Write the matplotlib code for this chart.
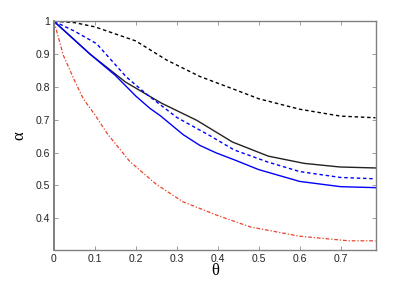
import numpy as np
import matplotlib
matplotlib.use("Agg")
import matplotlib.pyplot as plt

plt.rcParams['font.family'] = ['Liberation Sans', 'DejaVu Sans']

## values
theta_kd = [0, 0.05, 0.1, 0.2, 0.275, 0.356, 0.437, 0.5, 0.6, 0.7, 0.785]
alpha_kd = [1, 0.996, 0.983, 0.94, 0.882, 0.832, 0.794, 0.764, 0.732, 0.711, 0.706]

theta_k = [0, 0.0873, 0.1745, 0.2618, 0.349, 0.436, 0.5236, 0.611, 0.698, 0.785]
alpha_k = [1, 0.901, 0.815, 0.751, 0.698, 0.632, 0.589, 0.567, 0.556, 0.553]

theta_bd = [0, 0.05, 0.104, 0.177, 0.226, 0.3, 0.38, 0.44, 0.52, 0.6, 0.7, 0.785]
alpha_bd = [1, 0.97, 0.932, 0.83, 0.778, 0.707, 0.652, 0.608, 0.572, 0.542, 0.524, 0.52]

theta_b = [0, 0.088, 0.15, 0.2, 0.234, 0.26, 0.315, 0.356, 0.396, 0.44, 0.5, 0.6, 0.7, 0.785]
alpha_b = [1, 0.90, 0.835, 0.772, 0.735, 0.712, 0.655, 0.622, 0.599, 0.578, 0.548, 0.512, 0.496, 0.493]

theta_r = [0, 0.023, 0.05, 0.072, 0.1, 0.13, 0.185, 0.25, 0.315, 0.4, 0.48, 0.6, 0.72, 0.785]
alpha_r = [1, 0.896, 0.82, 0.763, 0.715, 0.658, 0.573, 0.503, 0.45, 0.408, 0.373, 0.345, 0.331, 0.331]

fig = plt.figure(figsize=(4.15, 2.82), dpi=100)
ax = fig.add_axes([0.130, 0.1135, 0.775, 0.811])

ax.plot(theta_kd, alpha_kd, color='black', linestyle=(0, (2.5, 2)), linewidth=1)
ax.plot(theta_k, alpha_k, color='#222222', linestyle='-', linewidth=1)
ax.plot(theta_bd, alpha_bd, color='blue', linestyle=(0, (2.5, 2)), linewidth=1)
ax.plot(theta_b, alpha_b, color='blue', linestyle='-', linewidth=1)
ax.plot(theta_r, alpha_r, color='#e8452c', linestyle=(0, (3, 1.5, 1, 1.5)), linewidth=0.9)

ax.set_xlim(0, np.pi / 4)
ax.set_ylim(0.303, 1)
ax.set_xticks([0, 0.1, 0.2, 0.3, 0.4, 0.5, 0.6, 0.7])
ax.set_xticklabels(['0', '0.1', '0.2', '0.3', '0.4', '0.5', '0.6', '0.7'])
ax.set_yticks([0.4, 0.5, 0.6, 0.7, 0.8, 0.9, 1])
ax.set_yticklabels(['0.4', '0.5', '0.6', '0.7', '0.8', '0.9', '1'])
ax.tick_params(direction='in', length=3, width=0.6, color='0.55',
               top=True, right=True, labelsize=7.5, pad=3, labelcolor='#222222')
for s in ax.spines.values():
    s.set_color('0.5')
    s.set_linewidth(1)
ax.spines['left'].set_linewidth(1.4)

ax.set_xlabel('θ', fontsize=12, labelpad=-1, family='Liberation Serif')
ax.set_ylabel('α', fontsize=12, labelpad=6, family='Liberation Serif')

plt.savefig('out.png', dpi=100)
